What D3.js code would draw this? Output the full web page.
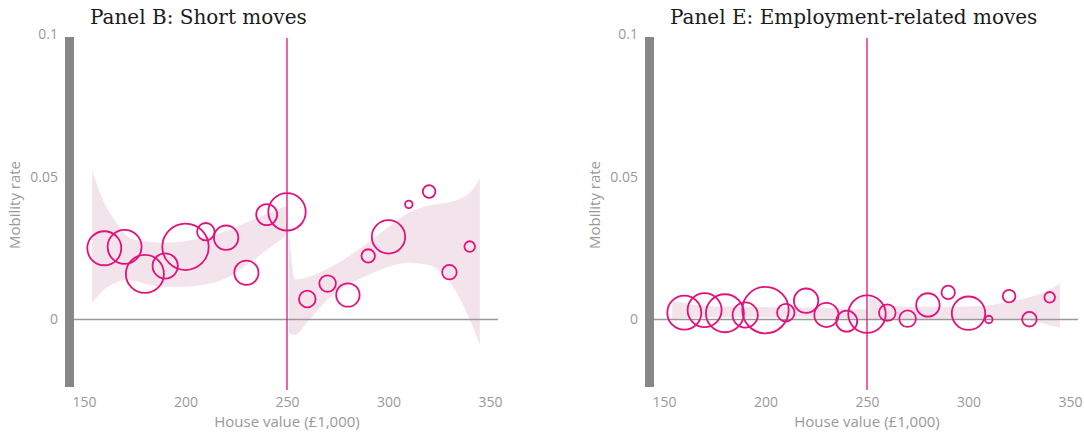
<!DOCTYPE html>
<html>
<head>
<meta charset="utf-8">
<script src="https://cdn.jsdelivr.net/npm/d3@7"></script>
<style>
  body { margin: 0; background: #fff; }
  #chart-div svg { display: block; }
</style>
</head>
<body>
<div id="chart-div"></div>
<script>
var width = 1084;
var height = 432;

// bins of house value (£1,000)
var houseValues = [160, 170, 180, 190, 200, 210, 220, 230, 240, 250,
                   260, 270, 280, 290, 300, 310, 320, 330, 340];
// relative number of observations in each bin (bubble area)
var binWeights = [289, 289, 361, 159, 538, 76, 149, 146, 110, 350,
                  69, 69, 137, 45, 279, 14, 40, 53, 28];

var shortMoves = [0.025, 0.0255, 0.016, 0.0188, 0.0255, 0.0308, 0.0287, 0.0164, 0.0368, 0.0378,
                  0.0072, 0.0126, 0.0086, 0.0223, 0.029, 0.0404, 0.0449, 0.0166, 0.0256];
var employmentMoves = [0.0024, 0.0033, 0.0022, 0.0016, 0.0033, 0.0024, 0.0066, 0.0016, -0.0006, 0.0019,
                       0.0024, 0.0003, 0.0051, 0.0095, 0.0022, 0.0, 0.0082, 0.0001, 0.0078];

// confidence bands either side of the 250 threshold
var bandXBelow = [154, 160, 165, 170, 175, 180, 190, 200, 210, 220, 230, 240, 250];
var bandXAbove = [251, 254, 260, 270, 280, 290, 300, 310, 320, 330, 340, 345];

var shortUpperBelow = [0.0525, 0.041, 0.035, 0.030, 0.028, 0.0275, 0.027, 0.0275, 0.029, 0.031, 0.034, 0.037, 0.040];
var shortLowerBelow = [0.0057, 0.0105, 0.0127, 0.0138, 0.0135, 0.0125, 0.0115, 0.0115, 0.0124, 0.0145, 0.019, 0.0244, 0.0296];
var shortUpperAbove = [0.031, 0.014, 0.0148, 0.0178, 0.022, 0.027, 0.0325, 0.0375, 0.040, 0.0412, 0.0445, 0.0496];
var shortLowerAbove = [-0.005, -0.0054, -0.001, 0.007, 0.0121, 0.0156, 0.0185, 0.0199, 0.019, 0.0133, 0.0, -0.009];

var empUpperBelow = [0.0066, 0.0058, 0.0052, 0.0048, 0.0046, 0.0045, 0.0045, 0.0044, 0.0043, 0.0042, 0.004, 0.0038, 0.0035];
var empLowerBelow = [0.0002, 0.0005, 0.0007, 0.0008, 0.0008, 0.0008, 0.0008, 0.0008, 0.0008, 0.0007, 0.0006, 0.0005, 0.0003];
var empUpperAbove = [0.0076, 0.007, 0.0052, 0.0045, 0.0045, 0.0045, 0.0046, 0.005, 0.0063, 0.0078, 0.0105, 0.0128];
var empLowerAbove = [0.0003, 0.0003, 0.0003, 0.0003, 0.0003, 0.0003, 0.0003, 0.0003, 0.0002, -0.0003, -0.002, -0.0028];

var xTicks = [150, 200, 250, 300, 350];
var yTicks = [0, 0.05, 0.1];
var threshold = 250;

var pink = "#e2127d";
var grey = "#999999";

var svg = d3.select("#chart-div").append("svg")
    .attr("width", width).attr("height", height);

var x = d3.scaleLinear().domain([150, 350]).range([84, 490]);
var y = d3.scaleLinear().domain([0, 0.1]).range([319.5, 34.5]);
var r = d3.scaleSqrt().domain([0, d3.max(binWeights)]).range([0, 23.2]);

function bandPoints(xs, lo, hi) {
  return xs.map(function(v, i) { return { x: v, lo: lo[i], hi: hi[i] }; });
}

var area = d3.area()
    .x(function(d) { return x(d.x); })
    .y0(function(d) { return y(d.lo); })
    .y1(function(d) { return y(d.hi); })
    .curve(d3.curveMonotoneX);

/**
 * Draws one panel of the figure
 * @param offset horizontal shift of the panel
 * @param title panel heading
 * @param values mobility rate per bin
 * @param bands the two confidence band segments
 */
function drawPanel(offset, title, values, bands) {
  var g = svg.append("g").attr("transform", "translate(" + offset + ",0)");

  g.append("text")
    .attr("x", 90).attr("y", 24)
    .style("font-family", "'DejaVu Serif', serif")
    .style("font-size", "20px")
    .style("fill", "#1a1a1a")
    .text(title);

  bands.forEach(function(b) {
    g.append("path")
      .datum(b)
      .attr("d", area)
      .style("fill", "#f3e4ec");
  });

  // zero line
  g.append("line")
    .attr("x1", 74).attr("x2", 498)
    .attr("y1", y(0)).attr("y2", y(0))
    .style("stroke", grey)
    .style("stroke-width", 1.5);

  // thick left bar
  g.append("rect")
    .attr("x", 65).attr("y", 37)
    .attr("width", 9).attr("height", 350)
    .style("fill", "#878787");

  var yAxis = d3.axisLeft(y).tickValues(yTicks).tickSize(0).tickPadding(5)
      .tickFormat(function(d) { return d === 0 ? "0" : d3.format("")(d); });
  var ya = g.append("g").attr("transform", "translate(63,0)").call(yAxis);
  ya.select(".domain").remove();
  ya.selectAll("text")
    .style("font-family", "'Open Sans', sans-serif")
    .style("font-size", "14px")
    .style("fill", grey);

  var xAxis = d3.axisBottom(x).tickValues(xTicks).tickSize(0).tickPadding(9);
  var xa = g.append("g").attr("transform", "translate(0,388)").call(xAxis);
  xa.select(".domain").remove();
  xa.selectAll("text")
    .style("font-family", "'Open Sans', sans-serif")
    .style("font-size", "14px")
    .style("fill", grey);

  g.append("text")
    .attr("x", x(threshold)).attr("y", 427)
    .attr("text-anchor", "middle")
    .style("font-family", "'Open Sans', sans-serif")
    .style("font-size", "15px")
    .style("fill", grey)
    .text("House value (£1,000)");

  g.append("text")
    .attr("transform", "translate(20,205) rotate(-90)")
    .attr("text-anchor", "middle")
    .style("font-family", "'Open Sans', sans-serif")
    .style("font-size", "15px")
    .style("fill", grey)
    .text("Mobility rate");

  // threshold line
  g.append("line")
    .attr("x1", x(threshold)).attr("x2", x(threshold))
    .attr("y1", 38).attr("y2", 390)
    .style("stroke", pink)
    .style("stroke-width", 1.3);

  g.selectAll("circle.bin")
    .data(houseValues)
    .enter().append("circle")
    .attr("class", "bin")
    .attr("cx", function(d) { return x(d); })
    .attr("cy", function(d, i) { return y(values[i]); })
    .attr("r", function(d, i) { return r(binWeights[i]); })
    .style("fill", "none")
    .style("stroke", pink)
    .style("stroke-width", 1.8);
}

drawPanel(0, "Panel B: Short moves", shortMoves, [
  bandPoints(bandXBelow, shortLowerBelow, shortUpperBelow),
  bandPoints(bandXAbove, shortLowerAbove, shortUpperAbove)
]);

drawPanel(580, "Panel E: Employment-related moves", employmentMoves, [
  bandPoints(bandXBelow, empLowerBelow, empUpperBelow),
  bandPoints(bandXAbove, empLowerAbove, empUpperAbove)
]);
</script>
</body>
</html>
